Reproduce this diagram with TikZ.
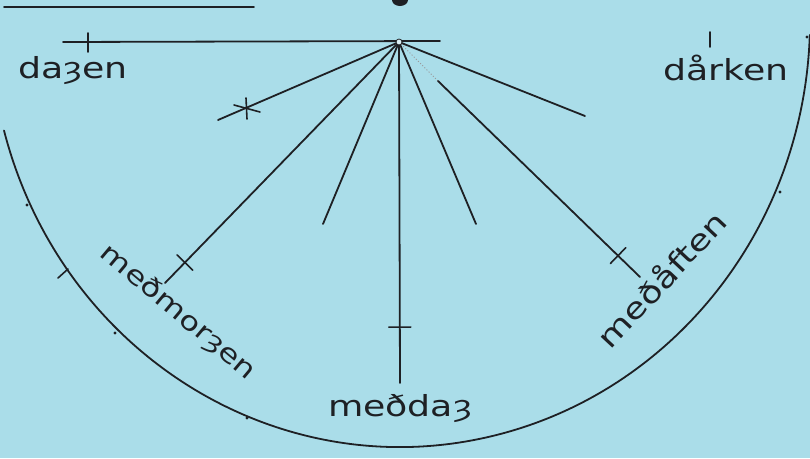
\documentclass[tikz,border=0pt]{standalone}
\usepackage{fontspec}
\setmainfont{DejaVu Sans}[FakeStretch=1.25]
\usetikzlibrary{calc}
\definecolor{paperblue}{RGB}{170,221,233}
\definecolor{inkblack}{RGB}{30,32,36}
\begin{document}
\begin{tikzpicture}[
    x=1pt, y=-1pt,
    ink/.style={draw=inkblack, line width=1.8pt, line cap=round},
    tickmark/.style={draw=inkblack, line width=1.6pt, line cap=round},
    dot/.style={fill=inkblack},
    word/.style={font=\fontsize{29}{34}\selectfont, text=inkblack, inner sep=0pt}
]
    % Paper
    \fill[paperblue] (0,0) rectangle (810,458);
    \useasboundingbox (0,0) rectangle (810,458);

    % Top rule and the cut-off mark above the dial
    \coordinate (ruleL) at (4,7);
    \coordinate (ruleR) at (254,7);
    \draw[ink] (ruleL) -- (ruleR);
    \fill[dot] (400,0) ellipse [x radius=8pt, y radius=6pt];

    % Horizon line through the gnomon point
    \coordinate (horL) at (63,42);
    \coordinate (horR) at (440,41);
    \draw[ink] (horL) -- (horR);
    \draw[tickmark] (88,33) -- (88,52);
    \draw[tickmark] (710,32) -- (710,47);

    % Rays from the gnomon point
    \coordinate (apex) at (399,42);
    \coordinate (rayA) at (218,120);
    \coordinate (rayB) at (165,283);
    \coordinate (rayC) at (323,224);
    \coordinate (rayD) at (400,383);
    \coordinate (rayE) at (476,224);
    \coordinate (rayG) at (585,116);
    \coordinate (rayFs) at (438,81);
    \coordinate (rayF) at (640,277);
    \foreach \r in {rayA,rayB,rayC,rayD,rayE,rayG}
        \draw[ink] (apex) -- (\r);
    \draw[inkblack!45, line width=1pt, dotted] (apex) -- (rayFs);
    \draw[ink] (rayFs) -- (rayF);
    \draw[inkblack, line width=0.8pt, fill=paperblue!40!white] (apex) circle (3pt);

    % Hour ticks across the rays
    \foreach \r/\f in {rayB/0.915, rayD/0.836, rayF/0.909} {
        \coordinate (t) at ($(apex)!\f!(\r)$);
        \draw[tickmark] ($(t)!11pt!90:(apex)$) -- ($(t)!11pt!-90:(apex)$);
    }
    % star on the short morning ray
    \draw[tickmark] (246,98) -- (247,119);
    \draw[tickmark] (234,105) -- (260,112);

    % Dial rim
    \draw[ink] (4,130.5) arc[start angle=195, end angle=358, x radius=410pt, y radius=427pt];
    \draw[tickmark] (58,278) -- (68,269);
    \foreach \p in {(27,205), (115,333), (247,418), (780,192), (807,37)}
        \fill[dot] \p circle (1.6pt);

    % Labels
    \node[word, anchor=base] (dagen) at (73,78) {daȝen};
    \node[word, anchor=base] (darken) at (726,80) {dårken};
    \node[word, anchor=base] (meddag) at (400,416) {meðdaȝ};
    \node[word, anchor=mid, rotate=-40, font=\fontsize{26}{30}\selectfont] (medmorgen) at (175,316) {meðmorȝen};
    \node[word, anchor=mid, rotate=47] (medaften) at (668,285) {meðåften};
\end{tikzpicture}
\end{document}
